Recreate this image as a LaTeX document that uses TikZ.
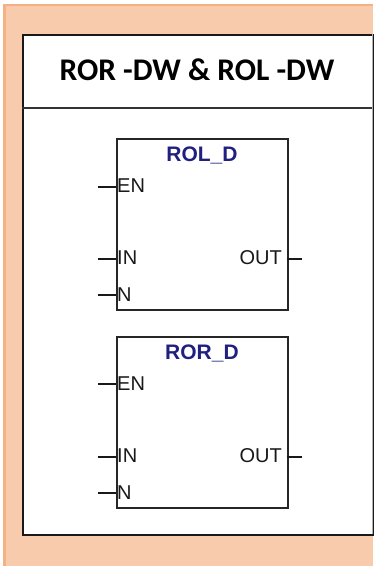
\documentclass[tikz,border=0pt]{standalone}
\usepackage{fontspec}
\setmainfont{Liberation Sans}
\newfontfamily\titlefont{Carlito}
\begin{document}
\begin{tikzpicture}[x=1pt,y=-1pt,
  fbblock/.style={draw=black!85,line width=2.2pt,fill=white,minimum width=171pt,minimum height=171pt,inner sep=0pt},
  pinlabel/.style={font=\fontsize{20}{20}\selectfont,text=black!90,inner sep=0pt},
  blocktitle/.style={font=\fontsize{21}{21}\selectfont\bfseries,text={rgb,255:red,32;green,32;blue,128},inner sep=0pt},
  pinline/.style={draw=black!90,line width=1.5pt}]
\useasboundingbox (0,0) rectangle (373,566);
\fill[white] (0,0) rectangle (373,566);
\fill[fill={rgb,255:red,248;green,203;blue,173}] (3,4) rectangle (373,566);
\fill[fill={rgb,255:red,244;green,177;blue,131}] (3,4) rectangle (373,6);
\fill[fill={rgb,255:red,244;green,177;blue,131}] (3,4) rectangle (6,566);
% inner panel
\node[draw=black!90,line width=2pt,fill=white,minimum width=350pt,minimum height=500pt,inner sep=0pt,anchor=north west] (panel) at (22,34) {};
\draw[black!30,line width=1.2pt] (372.5,34) -- (372.5,534);
\coordinate (sepL) at (22,108);
\coordinate (sepR) at (372,108);
\draw[black!80,line width=1.8pt] (sepL) -- (sepR);
\node[font=\titlefont\fontsize{31.5}{31.5}\selectfont\bfseries,text=black,inner sep=0pt] (title) at (197,70) {ROR -DW \& ROL -DW};
% block 1
\node[fbblock,anchor=north west] (b1) at (115.5,137.5) {};
\node[blocktitle] (t1) at (202,155) {ROL\_D};
\coordinate (b1en) at (115.5,187);
\coordinate (b1in) at (115.5,259);
\coordinate (b1n) at (115.5,295);
\coordinate (b1out) at (286.5,259);
\coordinate (b1enL) at (98,187);
\coordinate (b1inL) at (98,259);
\coordinate (b1nL) at (98,295);
\coordinate (b1outR) at (302,259);
\draw[pinline] (b1enL) -- (b1en);
\draw[pinline] (b1inL) -- (b1in);
\draw[pinline] (b1nL) -- (b1n);
\draw[pinline] (b1out) -- (b1outR);
\node[pinlabel,anchor=west] (l1en) at (117,186) {EN};
\node[pinlabel,anchor=west] (l1in) at (117,258) {IN};
\node[pinlabel,anchor=west] (l1n) at (117,294.5) {N};
\node[pinlabel,anchor=east] (l1out) at (282,258) {OUT};
% block 2
\node[fbblock,anchor=north west] (b2) at (115.5,335.5) {};
\node[blocktitle] (t2) at (202,353) {ROR\_D};
\coordinate (b2en) at (115.5,384);
\coordinate (b2in) at (115.5,457);
\coordinate (b2n) at (115.5,493);
\coordinate (b2out) at (286.5,457);
\coordinate (b2enL) at (98,384);
\coordinate (b2inL) at (98,457);
\coordinate (b2nL) at (98,493);
\coordinate (b2outR) at (302,457);
\draw[pinline] (b2enL) -- (b2en);
\draw[pinline] (b2inL) -- (b2in);
\draw[pinline] (b2nL) -- (b2n);
\draw[pinline] (b2out) -- (b2outR);
\node[pinlabel,anchor=west] (l2en) at (117,383.5) {EN};
\node[pinlabel,anchor=west] (l2in) at (117,456) {IN};
\node[pinlabel,anchor=west] (l2n) at (117,492.5) {N};
\node[pinlabel,anchor=east] (l2out) at (282,456) {OUT};
\end{tikzpicture}
\end{document}
